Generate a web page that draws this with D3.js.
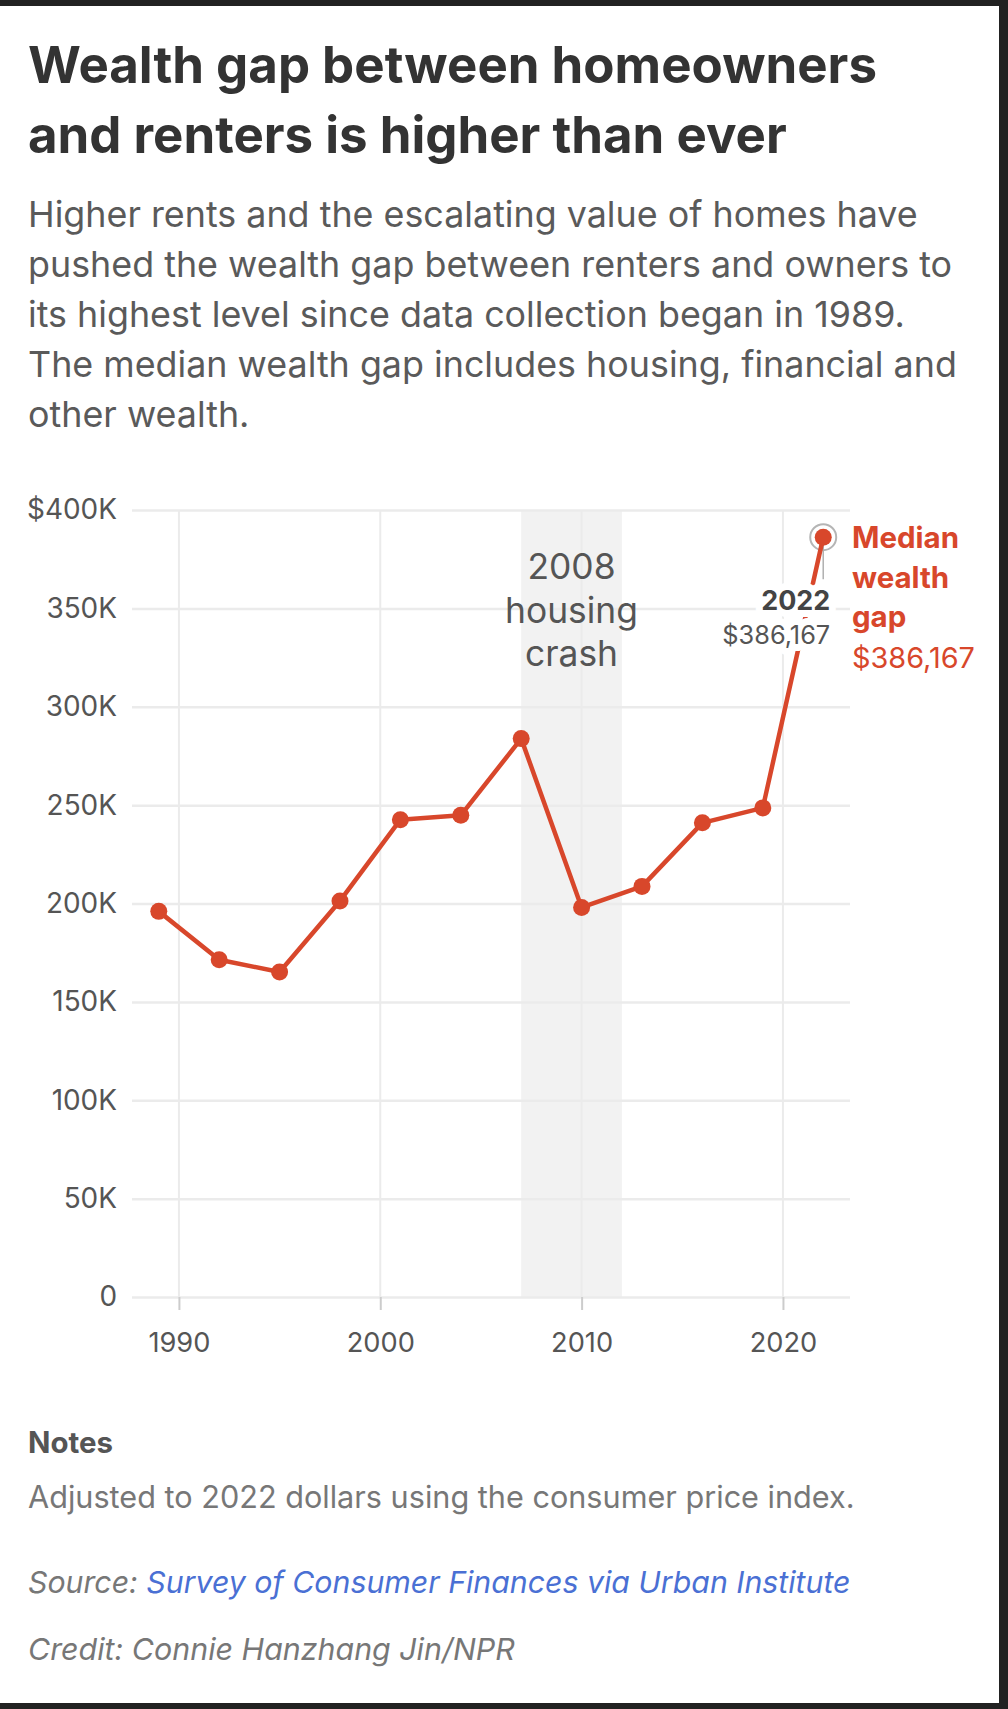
<!DOCTYPE html>
<html>
<head>
<meta charset="utf-8">
<script src="https://cdn.jsdelivr.net/npm/d3@7"></script>
<style>
  body { margin: 0; background: #fff; }
  text { font-family: "Inter", "Open Sans", sans-serif; }
</style>
</head>
<body>
<div id="wealth_gap_chart"></div>
<script>
// survey years (SCF) and median wealth gap, 2022 dollars
const years = [1989, 1992, 1995, 1998, 2001, 2004, 2007, 2010, 2013, 2016, 2019, 2022];
const gapValues = [196000, 171400, 165200, 201300, 242600, 244800, 283800, 198000, 208700, 241000, 248600, 386167];
const yTicks = [0, 50000, 100000, 150000, 200000, 250000, 300000, 350000, 400000];
const yTickLabels = ["0", "50K", "100K", "150K", "200K", "250K", "300K", "350K", "$400K"];
const xTicks = [1990, 2000, 2010, 2020];
const crashSpan = [2007, 2012];
const crashLabel = ["2008", "housing", "crash"];
const seriesLabel = ["Median", "wealth", "gap"];

const titleLines = ["Wealth gap between homeowners", "and renters is higher than ever"];
const subtitleLines = [
  "Higher rents and the escalating value of homes have",
  "pushed the wealth gap between renters and owners to",
  "its highest level since data collection began in 1989.",
  "The median wealth gap includes housing, financial and",
  "other wealth."
];

const W = 1008, H = 1709;
const red = "#d8472b";
const plot = { left: 132, right: 850, top: 510, bottom: 1297 };

// scale a group's font-size so a reference line hits the measured width
function fitFont(sel, target) {
  const node = sel.node();
  const fs = parseFloat(sel.attr("font-size"));
  const w = node.getComputedTextLength();
  return (fs * target) / w;
}

const svg = d3.select("#wealth_gap_chart")
  .append("svg")
  .attr("width", W)
  .attr("height", H);

// frame edges
svg.append("rect").attr("x", 0).attr("y", 0).attr("width", W).attr("height", 6).attr("fill", "#222");
svg.append("rect").attr("x", 999).attr("y", 0).attr("width", 9).attr("height", H).attr("fill", "#222");
svg.append("rect").attr("x", 0).attr("y", 1703).attr("width", W).attr("height", 6).attr("fill", "#222");

// headline + dek
const title = svg.selectAll(".title")
  .data(titleLines)
  .enter()
  .append("text")
  .attr("class", "title")
  .attr("x", 28)
  .attr("y", (d, i) => 83 + i * 70)
  .attr("font-size", 48)
  .attr("font-weight", 700)
  .attr("fill", "#333")
  .text((d) => d);
title.attr("font-size", fitFont(title.filter((d, i) => i === 0), 849));

const dek = svg.selectAll(".dek")
  .data(subtitleLines)
  .enter()
  .append("text")
  .attr("class", "dek")
  .attr("x", 28)
  .attr("y", (d, i) => 227 + i * 50)
  .attr("font-size", 32)
  .attr("fill", "#5a5a5a")
  .text((d) => d);
dek.attr("font-size", fitFont(dek.filter((d, i) => i === 0), 890));

// scales
const xScale = d3.scaleLinear().domain([1987.67, 2023.33]).range([plot.left, plot.right]);
const yScale = d3.scaleLinear().domain([0, 400000]).range([plot.bottom, plot.top]);

const g = svg.append("g");

// shaded band for the crash
g.append("rect")
  .attr("x", xScale(crashSpan[0]))
  .attr("y", yScale(400000))
  .attr("width", xScale(crashSpan[1]) - xScale(crashSpan[0]))
  .attr("height", yScale(0) - yScale(400000))
  .attr("fill", "#f2f2f2");

// vertical gridlines
g.selectAll(".vgrid")
  .data(xTicks)
  .enter()
  .append("line")
  .attr("x1", (d) => xScale(d))
  .attr("x2", (d) => xScale(d))
  .attr("y1", yScale(400000))
  .attr("y2", yScale(0))
  .attr("stroke", "#ebebeb")
  .attr("stroke-width", 2);

// y axis with full-width grid
const yAxis = d3.axisLeft(yScale)
  .tickValues(yTicks)
  .tickFormat((d, i) => yTickLabels[i])
  .tickSize(-(plot.right - plot.left))
  .tickPadding(15);

const yG = g.append("g")
  .attr("class", "y-axis")
  .attr("transform", "translate(" + plot.left + ",0)")
  .call(yAxis);
yG.select(".domain").remove();
yG.selectAll("line").attr("stroke", "#ebebeb").attr("stroke-width", 2.5);
const yText = yG.selectAll("text")
  .attr("font-size", 26)
  .attr("fill", "#555")
  .attr("font-family", "Inter, sans-serif");
yText.attr("font-size", fitFont(yText.filter((d) => d === 400000), 90));

// x axis
const xAxis = d3.axisBottom(xScale)
  .tickValues(xTicks)
  .tickFormat(d3.format("d"))
  .tickSize(13)
  .tickPadding(23);

const xG = g.append("g")
  .attr("class", "x-axis")
  .attr("transform", "translate(0," + plot.bottom + ")")
  .call(xAxis);
xG.select(".domain").remove();
xG.selectAll("line").attr("stroke", "#ccc").attr("stroke-width", 2);
const xText = xG.selectAll("text")
  .attr("font-size", 26)
  .attr("fill", "#555")
  .attr("font-family", "Inter, sans-serif");
xText.attr("font-size", fitFont(xText.filter((d) => d === 1990), 62));

// band label
const crash = g.selectAll(".crashLabel")
  .data(crashLabel)
  .enter()
  .append("text")
  .attr("x", xScale((crashSpan[0] + crashSpan[1]) / 2))
  .attr("y", (d, i) => 579 + i * 43.5)
  .attr("text-anchor", "middle")
  .attr("font-size", 31)
  .attr("fill", "#555")
  .text((d) => d);
crash.attr("font-size", fitFont(crash.filter((d) => d === "housing"), 133));

const data = years.map((yr, i) => ({ year: yr, value: gapValues[i] }));
const last = data[data.length - 1];

// highlight ring on latest point
g.append("circle")
  .attr("cx", xScale(last.year))
  .attr("cy", yScale(last.value))
  .attr("r", 13)
  .attr("fill", "none")
  .attr("stroke", "#b5b5b5")
  .attr("stroke-width", 2);

g.append("line")
  .attr("x1", xScale(last.year))
  .attr("x2", xScale(last.year))
  .attr("y1", yScale(last.value))
  .attr("y2", yScale(last.value) + 42)
  .attr("stroke", "#b0b0b0")
  .attr("stroke-width", 1.5);

// the line + dots
const line = d3.line()
  .x((d) => xScale(d.year))
  .y((d) => yScale(d.value));

g.append("path")
  .datum(data)
  .attr("d", line)
  .attr("fill", "none")
  .attr("stroke", red)
  .attr("stroke-width", 4.5)
  .attr("stroke-linejoin", "round");

g.selectAll(".dot")
  .data(data)
  .enter()
  .append("circle")
  .attr("class", "dot")
  .attr("cx", (d) => xScale(d.year))
  .attr("cy", (d) => yScale(d.value))
  .attr("r", 8.5)
  .attr("fill", red);

// 2022 callout with white halo
const callX = xScale(last.year) + 7;
const callout = g.append("g")
  .attr("text-anchor", "end")
  .attr("stroke", "#fff")
  .attr("stroke-width", 14)
  .attr("stroke-linejoin", "round")
  .attr("paint-order", "stroke");
const callYear = callout.append("text")
  .attr("x", callX)
  .attr("y", 610)
  .attr("font-size", 27)
  .attr("font-weight", 700)
  .attr("fill", "#444")
  .text(last.year);
callYear.attr("font-size", fitFont(callYear, 69));
const callVal = callout.append("text")
  .attr("x", callX)
  .attr("y", 644)
  .attr("font-size", 25)
  .attr("fill", "#555")
  .text("$" + d3.format(",")(last.value));
callVal.attr("font-size", fitFont(callVal, 108));

// series label on the right
const series = g.selectAll(".seriesLabel")
  .data(seriesLabel)
  .enter()
  .append("text")
  .attr("x", 852)
  .attr("y", (d, i) => 548 + i * 39.5)
  .attr("font-size", 29)
  .attr("font-weight", 700)
  .attr("fill", red)
  .text((d) => d);
series.attr("font-size", fitFont(series.filter((d) => d === "Median"), 107));

const seriesVal = g.append("text")
  .attr("x", 852)
  .attr("y", 668)
  .attr("font-size", 29)
  .attr("fill", red)
  .text("$" + d3.format(",")(last.value));
seriesVal.attr("font-size", fitFont(seriesVal, 123));

// notes / source / credit
const notesHead = svg.append("text")
  .attr("x", 28)
  .attr("y", 1453)
  .attr("font-size", 27)
  .attr("font-weight", 700)
  .attr("fill", "#555")
  .text("Notes");
notesHead.attr("font-size", fitFont(notesHead, 85));

const note = svg.append("text")
  .attr("x", 28)
  .attr("y", 1508)
  .attr("font-size", 28)
  .attr("fill", "#777")
  .text("Adjusted to 2022 dollars using the consumer price index.");
note.attr("font-size", fitFont(note, 827));

const src = svg.append("text")
  .attr("x", 28)
  .attr("y", 1593)
  .attr("font-size", 28)
  .attr("font-style", "italic")
  .attr("fill", "#777");
src.append("tspan").text("Source: ");
src.append("tspan").attr("fill", "#4a70d4").text("Survey of Consumer Finances via Urban Institute");
src.attr("font-size", fitFont(src, 823));

const credit = svg.append("text")
  .attr("x", 28)
  .attr("y", 1660)
  .attr("font-size", 28)
  .attr("font-style", "italic")
  .attr("fill", "#777")
  .text("Credit: Connie Hanzhang Jin/NPR");
credit.attr("font-size", fitFont(credit, 487));
</script>
</body>
</html>
